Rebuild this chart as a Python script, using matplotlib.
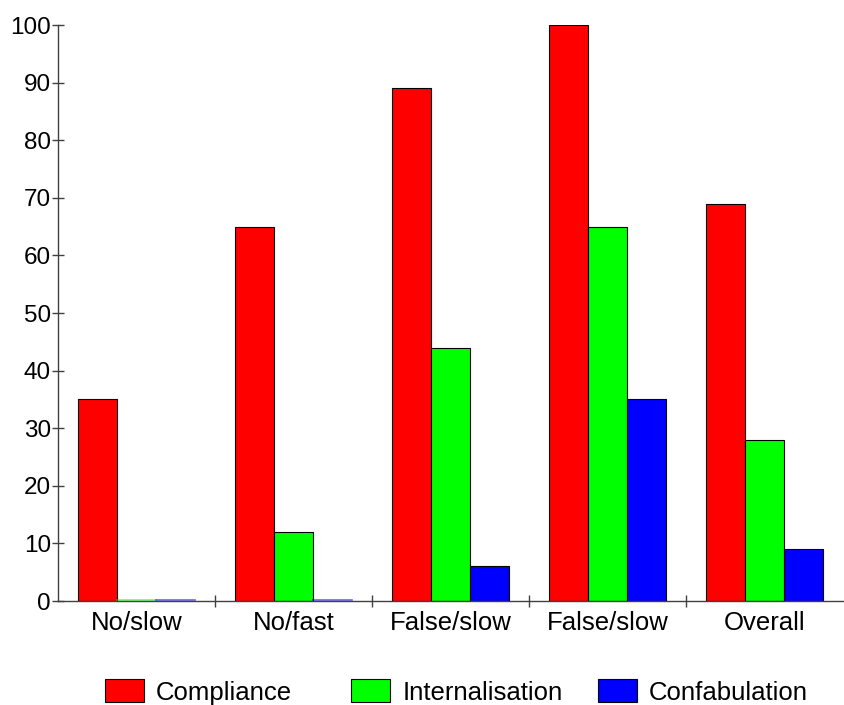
import matplotlib.pyplot as plt
import numpy as np

plt.rcParams['font.family'] = ['Liberation Sans', 'DejaVu Sans']

# Дані
categories = ["No/slow", "No/fast", "False/slow", "False/slow", "Overall"]
compliance = [35, 65, 89, 100, 69]
internalisation = [0, 12, 44, 65, 28]
confabulation = [0, 0, 6, 35, 9]
series_names = ["Compliance", "Internalisation", "Confabulation"]
colors = ["#ff0000", "#00ff00", "#0000ff"]

fig = plt.figure(figsize=(8.45, 7.05), dpi=100)
ax = fig.add_axes([58 / 845, 1 - 601 / 705, 785 / 845, 576 / 705])

x = np.arange(len(categories))
w = 0.25
handles = []
for i, (vals, name, c) in enumerate(zip([compliance, internalisation, confabulation], series_names, colors)):
    b = ax.bar(x + (i - 1) * w, vals, width=w, color=c, edgecolor="black", linewidth=0.8, label=name)
    handles.append(b)
    # нульові стовпці видно як тонку лінію
    for xi, v in zip(x, vals):
        if v == 0:
            ax.plot([xi + (i - 1) * w - w / 2, xi + (i - 1) * w + w / 2], [0.15, 0.15],
                    color=c, lw=1.2, alpha=0.6, clip_on=False)

ax.set_xlim(-0.5, len(categories) - 0.5)
ax.set_ylim(0, 100)
ax.set_yticks(range(0, 101, 10))

# тики на межах груп, підписи по центру
ax.set_xticks(np.arange(0.5, len(categories) - 1, 1))
ax.set_xticklabels([])
ax.set_xticks(x, minor=True)
ax.set_xticklabels(categories, minor=True)

for s in ["top", "right"]:
    ax.spines[s].set_visible(False)
for s in ["left", "bottom"]:
    ax.spines[s].set_color("#404040")
    ax.spines[s].set_linewidth(1.0)

ax.tick_params(axis="y", direction="inout", length=8, width=1, color="#404040", labelsize=17.5, pad=1)
ax.tick_params(axis="x", which="major", direction="inout", length=8, width=1, color="#404040")
ax.tick_params(axis="x", which="minor", length=0, labelsize=18.5, pad=7)

# легенда: кожен елемент окремо, з рівним кроком
legend_x = [105, 351, 598]
for h, name, lx in zip(handles, series_names, legend_x):
    fig.legend([h], [name], loc="center left", bbox_to_anchor=(lx / 845, 1 - 692 / 705),
               frameon=False, fontsize=18.5, borderpad=0, borderaxespad=0,
               handlelength=1.52, handleheight=0.97, handletextpad=0.47)

plt.savefig("out.png", dpi=100)
